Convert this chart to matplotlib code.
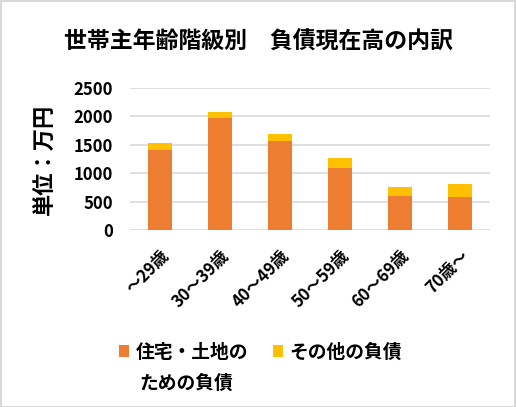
import matplotlib.pyplot as plt
import numpy as np
from matplotlib.patches import Rectangle

plt.rcParams['font.family'] = ['Noto Sans CJK JP', 'DejaVu Sans']
plt.rcParams['font.weight'] = 'bold'

# 年齢階級と負債額（万円）
age_groups = ['～29歳', '30～39歳', '40～49歳', '50～59歳', '60～69歳', '70歳～']
housing = [1412, 1972, 1570, 1097, 608, 586]
other = [123, 105, 122, 175, 155, 228]
yticks = [0, 500, 1000, 1500, 2000, 2500]

c_house = '#ED7D31'
c_other = '#FFC000'

fig = plt.figure(figsize=(5.16, 4.07), dpi=100)
ax = fig.add_axes([0.252, 0.4337, 0.6976, 0.3508])

pos = np.arange(len(age_groups))
b1 = ax.bar(pos, housing, width=0.4, color=c_house, zorder=3)
b2 = ax.bar(pos, other, width=0.4, bottom=housing, color=c_other, zorder=3)

ax.set_xlim(-0.5, len(age_groups) - 0.5)
ax.set_ylim(0, 2500)
ax.set_yticks(yticks)
ax.set_yticklabels([str(v) for v in yticks], fontsize=12, fontweight='bold')
ax.set_xticks(pos)
ax.set_xticklabels(age_groups, rotation=45, ha='right', rotation_mode='anchor',
                   fontsize=12, fontweight='bold')
ax.tick_params(length=0)
ax.tick_params(axis='y', pad=12)
ax.tick_params(axis='x', pad=12)
ax.grid(axis='y', color='#D9D9D9', linewidth=1.2, zorder=0)
for s in ax.spines.values():
    s.set_visible(False)
ax.set_ylabel('単位：万円', fontsize=16, fontweight='bold', labelpad=12)

fig.text(0.5, 0.897, '世帯主年齢階級別　負債現在高の内訳', ha='center', va='center',
         fontsize=16.5, fontweight='bold')

leg = fig.legend([b1, b2], ['住宅・土地の', 'その他の負債'], ncol=2, frameon=False,
                 loc='center', bbox_to_anchor=(0.505, 0.135),
                 handlelength=0.55, handleheight=0.55, handletextpad=0.35,
                 columnspacing=1.3, prop={'weight': 'bold', 'size': 13.5})
fig.text(0.271, 1 - 383 / 407, 'ための負債', ha='left', va='center',
         fontsize=13.5, fontweight='bold')

fig.patches.append(Rectangle((0.001, 0.001), 0.997, 0.997, transform=fig.transFigure,
                             fill=False, edgecolor='#D9D9D9', linewidth=1.5))

fig.savefig('out.png', dpi=100)
